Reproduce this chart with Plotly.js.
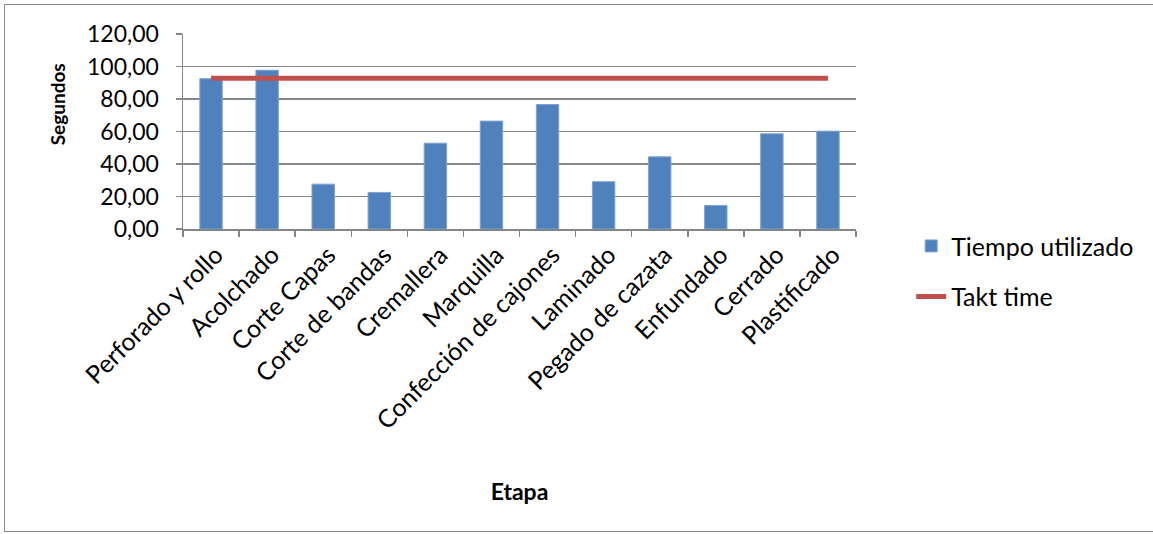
<!DOCTYPE html>
<html>
<head>
<meta charset="utf-8">
<script src="https://cdn.plot.ly/plotly-3.0.1.min.js"></script>
<style>
  html, body { margin: 0; padding: 0; background: #ffffff; }
  #frame { position: absolute; left: 4px; top: 4px; width: 1160px; height: 528px; border: 1.5px solid #8c8c8c; box-sizing: border-box; }
  #chart { position: absolute; left: 0; top: 0; width: 1153px; height: 534px; }
</style>
</head>
<body>
<div id="frame"></div>
<div id="chart"></div>
<script>
const categories = ["Perforado y rollo", "Acolchado", "Corte Capas", "Corte de bandas", "Cremallera", "Marquilla", "Confección de cajones", "Laminado", "Pegado de cazata", "Enfundado", "Cerrado", "Plastificado"];
const tiempoUtilizado = [92.5, 97.7, 27.6, 22.5, 52.8, 66.4, 76.6, 29.1, 44.4, 14.5, 58.6, 60.2];
const taktTime = [92.8, 92.8, 92.8, 92.8, 92.8, 92.8, 92.8, 92.8, 92.8, 92.8, 92.8, 92.8];
const yTickVals = [0, 20, 40, 60, 80, 100, 120];
const yTickText = ["0,00", "20,00", "40,00", "60,00", "80,00", "100,00", "120,00"];

const font = "Lato, 'Open Sans', sans-serif";

const traces = [
  {
    type: "bar",
    name: "Tiempo utilizado",
    x: categories,
    y: tiempoUtilizado,
    marker: { color: "#4F81BD", line: { color: "#7FA3D3", width: 1 } },
    legendgroup: "a"
  },
  {
    type: "scatter",
    mode: "lines",
    name: "Takt time",
    x: categories,
    y: taktTime,
    line: { color: "#C0504D", width: 5 },
    legendgroup: "b"
  }
];

const layout = {
  width: 1153,
  height: 534,
  margin: { l: 183, r: 297, t: 34, b: 305 },
  paper_bgcolor: "rgba(0,0,0,0)",
  plot_bgcolor: "#ffffff",
  font: { family: font, size: 22, color: "#000000" },
  bargap: 0.6,
  showlegend: true,
  legend: {
    x: 1.082, y: 0.03, xanchor: "left", yanchor: "top",
    font: { family: font, size: 25, color: "#000000" },
    traceorder: "grouped",
    tracegroupgap: 15,
    bgcolor: "rgba(0,0,0,0)"
  },
  xaxis: {
    type: "category",
    tickangle: -45,
    tickson: "boundaries",
    ticks: "outside",
    ticklen: 6,
    tickcolor: "#868686",
    tickwidth: 1.5,
    ticklabelshift: 5,
    showline: true,
    linecolor: "#868686",
    linewidth: 1.5,
    showgrid: false,
    tickfont: { family: font, size: 25, color: "#000000" },
    title: { text: "<b>Etapa</b>", font: { family: font, size: 23, color: "#000000" }, standoff: 0 },
    automargin: false
  },
  yaxis: {
    range: [0, 120],
    tickvals: yTickVals,
    ticktext: yTickText,
    ticks: "outside",
    ticklen: 6,
    tickcolor: "#868686",
    tickwidth: 1.5,
    ticklabelstandoff: 12,
    showline: true,
    linecolor: "#868686",
    linewidth: 1.5,
    showgrid: true,
    gridcolor: "#868686",
    gridwidth: 1.5,
    zeroline: false,
    tickfont: { family: font, size: 23, color: "#000000" },
    automargin: false
  },
  annotations: [
    {
      text: "<b>Segundos</b>",
      xref: "paper", yref: "paper",
      x: -0.187, y: 0.64,
      xanchor: "center", yanchor: "middle",
      textangle: -90,
      showarrow: false,
      font: { family: font, size: 19, color: "#000000" }
    }
  ]
};

Plotly.newPlot("chart", traces, layout, { displayModeBar: false, staticPlot: true }).then(function () {
  const t = document.querySelector(".g-xtitle text");
  if (t) { t.setAttribute("y", 492); }
});
</script>
</body>
</html>
